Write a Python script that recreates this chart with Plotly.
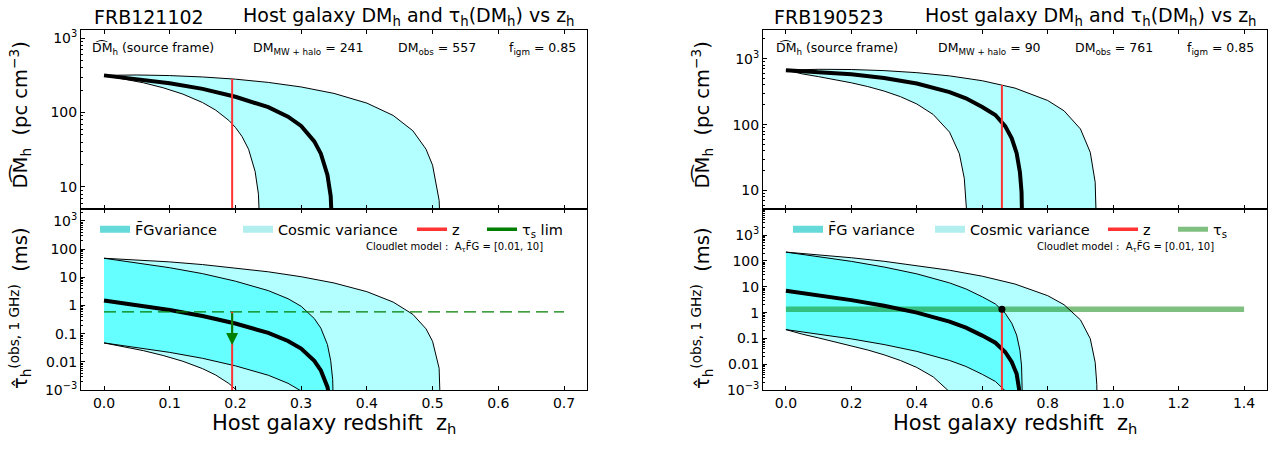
import math
import plotly.graph_objects as go

W, H = 1276, 452
FONT = "DejaVu Sans"

# ---------------- FRB121102 (left) ----------------
zL_mean = [0, 0.05, 0.1, 0.15, 0.2, 0.25, 0.28, 0.3, 0.32, 0.33, 0.34, 0.345, 0.348, 0.3505]
dmL_mean = [316, 284, 248, 208, 163, 118, 88, 66, 41, 28, 14.5, 7.5, 3.5, 0.5]
tauL_mean = [1.5, 1.047, 0.694, 0.427, 0.231, 0.107, 0.0555, 0.0298, 0.011, 0.005, 0.00131, 0.000347, 7.5e-5, 1e-6]
tauL_fg_hi = [47.4, 33.1, 21.9, 13.5, 7.30, 3.38, 1.75, 0.942, 0.347, 0.158, 0.0414, 0.011, 0.00237, 1e-5]
tauL_fg_lo = [0.0474, 0.0331, 0.0219, 0.0135, 0.0073, 0.00339, 0.00176, 0.00094, 0.000347, 0.000158, 4.1e-5, 1.1e-5, 2.4e-6, 1e-8]

zL_up = [0, 0.05, 0.1, 0.15, 0.2, 0.25, 0.3, 0.35, 0.4, 0.44, 0.47, 0.49, 0.5, 0.51, 0.515]
dmL_up = [316, 319.9, 314, 300.9, 281, 254.1, 220.8, 180.8, 133.9, 91.5, 56.9, 32.2, 19.6, 6.6, 0.5]
tauL_cv_hi = [47.4, 42.0, 35.2, 28.3, 21.7, 15.7, 10.5, 6.31, 3.10, 1.33, 0.487, 0.150, 0.054, 0.006, 1e-6]

zL_lo = [0, 0.03, 0.06, 0.09, 0.12, 0.15, 0.17, 0.19, 0.2, 0.21, 0.22, 0.23, 0.235, 0.2395]
dmL_lo = [316, 284.8, 251.2, 215.3, 177, 136.2, 107.8, 78.3, 63.1, 47.7, 32.1, 16.1, 8.0, 0.8]
tauL_cv_lo = [0.0474, 0.0352, 0.0252, 0.0170, 0.0106, 0.0058, 0.00345, 0.00173, 0.00109, 0.00061, 0.00027, 6.5e-5, 1.6e-5, 1e-7]

zL_frb = 0.195
dmL_frb_top = 283
tauL_lim = 0.6
tauL_arrow_tip = 0.04
zL_lim_span = [0, 0.7]
L_info = {"dm_mw": 241, "dm_obs": 557, "figm": 0.85}

# ---------------- FRB190523 (right) ----------------
zR_mean = [0, 0.1, 0.2, 0.3, 0.4, 0.5, 0.55, 0.6, 0.64, 0.67, 0.69, 0.705, 0.715, 0.72, 0.725]
dmR_mean = [671, 636.2, 583.1, 511.3, 421.1, 312.3, 251.1, 185.1, 140, 95, 62, 37, 19, 9.5, 0.5]
tauR_mean = [7.0, 4.73, 3.06, 1.85, 1.005, 0.449, 0.263, 0.130, 0.0691, 0.0301, 0.0124, 0.0043, 0.00111, 0.000276, 1e-6]
tauR_fg_hi = [221, 149.5, 96.7, 58.5, 31.8, 14.2, 8.31, 4.11, 2.18, 0.951, 0.392, 0.136, 0.0351, 0.00872, 3e-5]
tauR_fg_lo = [0.2215, 0.1497, 0.0968, 0.0585, 0.0318, 0.0142, 0.00832, 0.00411, 0.00219, 0.00095, 0.00039, 0.000136, 3.5e-5, 8.7e-6, 3e-8]

zR_up = [0, 0.1, 0.2, 0.3, 0.4, 0.5, 0.6, 0.7, 0.8, 0.85, 0.9, 0.93, 0.945, 0.95, 0.953]
dmR_up = [671, 691, 685.7, 659.8, 614.3, 548.9, 463.6, 358.4, 232.5, 162, 86, 38, 13.4, 5.0, 0.5]
tauR_cv_hi = [221, 176.1, 133.6, 97.3, 67.5, 43.8, 25.8, 12.83, 4.55, 2.03, 0.529, 0.0986, 0.012, 0.00166, 1e-7]

zR_lo = [0, 0.05, 0.1, 0.15, 0.2, 0.25, 0.3, 0.35, 0.4, 0.45, 0.5, 0.53, 0.545, 0.553, 0.556]
dmR_lo = [671, 588.9, 534.2, 482.8, 431.2, 378.2, 323.2, 265.7, 205.8, 142.7, 77, 36.2, 15.4, 4.2, 0.5]
tauR_cv_lo = [0.2215, 0.1474, 0.1055, 0.0754, 0.0529, 0.036, 0.0234, 0.01412, 0.00759, 0.00329, 0.000864, 0.00018, 3.2e-5, 2.3e-6, 1e-9]

zR_frb = 0.66
dmR_frb_top = 400
tauR_s = 1.35
zR_s_span = [0, 1.4]
R_info = {"dm_mw": 90, "dm_obs": 761, "figm": 0.85}

# tick labels
dm_tickvals = [10, 100, 1000]
dm_ticktext = ["10", "100", "10<sup>3</sup>"]
tau_tickvals = [1e-3, 0.01, 0.1, 1, 10, 100, 1000]
tau_ticktext = ["10<sup>−3</sup>", "0.01", "0.1", "1", "10", "100", "10<sup>3</sup>"]
minor_vals = [m * 10.0 ** e for e in range(-3, 5) for m in range(2, 10)]

# ---------------- styles ----------------
LIGHT = "#B3FFFF"
DARK = "#66FFFF"
RED = "#FF3333"
DGREEN = "#007F00"
TGREEN = "rgba(0,128,0,0.5)"

fig = go.Figure()


def band(z_hi, v_hi, z_lo, v_lo, color, xa, ya):
    fig.add_trace(go.Scatter(
        x=list(z_hi) + list(z_lo)[::-1], y=list(v_hi) + list(v_lo)[::-1],
        fill="toself", fillcolor=color, mode="lines",
        line=dict(width=0, color=color), hoverinfo="skip",
        showlegend=False, xaxis=xa, yaxis=ya))


def line(z, v, color, width, xa, ya, dash=None):
    fig.add_trace(go.Scatter(
        x=z, y=v, mode="lines", line=dict(color=color, width=width, dash=dash),
        hoverinfo="skip", showlegend=False, xaxis=xa, yaxis=ya))


def legend_item(name, color, width, leg):
    fig.add_trace(go.Scatter(
        x=[None], y=[None], mode="lines", name=name,
        line=dict(color=color, width=width), legend=leg, showlegend=True,
        xaxis="x2", yaxis="y2"))


# ---- left top ----
band(zL_up, dmL_up, zL_lo, dmL_lo, LIGHT, "x", "y")
line(zL_up, dmL_up, "black", 1, "x", "y")
line(zL_lo, dmL_lo, "black", 1, "x", "y")
line(zL_mean, dmL_mean, "black", 4, "x", "y")
line([zL_frb, zL_frb], [1, dmL_frb_top], RED, 2, "x", "y")

# ---- left bottom ----
band(zL_up, tauL_cv_hi, zL_lo, tauL_cv_lo, LIGHT, "x2", "y2")
band(zL_mean, tauL_fg_hi, zL_mean, tauL_fg_lo, DARK, "x2", "y2")
for zz, vv in [(zL_up, tauL_cv_hi), (zL_lo, tauL_cv_lo), (zL_mean, tauL_fg_hi), (zL_mean, tauL_fg_lo)]:
    line(zz, vv, "black", 1, "x2", "y2")
line(zL_mean, tauL_mean, "black", 4, "x2", "y2")
line(zL_lim_span, [tauL_lim, tauL_lim], DGREEN, 1.2, "x2", "y2", dash="12px,6px")
line([zL_frb, zL_frb], [1e-5, tauL_lim], RED, 2, "x2", "y2")

# ---- right top ----
band(zR_up, dmR_up, zR_lo, dmR_lo, LIGHT, "x3", "y3")
line(zR_up, dmR_up, "black", 1, "x3", "y3")
line(zR_lo, dmR_lo, "black", 1, "x3", "y3")
line(zR_mean, dmR_mean, "black", 4, "x3", "y3")
line([zR_frb, zR_frb], [1, dmR_frb_top], RED, 2, "x3", "y3")

# ---- right bottom ----
band(zR_up, tauR_cv_hi, zR_lo, tauR_cv_lo, LIGHT, "x4", "y4")
band(zR_mean, tauR_fg_hi, zR_mean, tauR_fg_lo, DARK, "x4", "y4")
line(zR_s_span, [tauR_s, tauR_s], TGREEN, 5.5, "x4", "y4")
for zz, vv in [(zR_up, tauR_cv_hi), (zR_lo, tauR_cv_lo), (zR_mean, tauR_fg_hi), (zR_mean, tauR_fg_lo)]:
    line(zz, vv, "black", 1, "x4", "y4")
line(zR_mean, tauR_mean, "black", 4, "x4", "y4")
line([zR_frb, zR_frb], [1e-5, tauR_s], RED, 2, "x4", "y4")
fig.add_trace(go.Scatter(x=[zR_frb], y=[tauR_s], mode="markers",
                         marker=dict(color="black", size=7), showlegend=False,
                         hoverinfo="skip", xaxis="x4", yaxis="y4"))

# ---- legends ----
legend_item("F\u0304Gvariance", "#66D9D9", 7, "legend")
legend_item("Cosmic variance", "#B3EEEE", 7, "legend2")
legend_item("z", RED, 3.5, "legend3")
legend_item("τ<sub>s</sub> lim", DGREEN, 3.5, "legend4")
legend_item("F\u0304G variance", "#66D9D9", 7, "legend5")
legend_item("Cosmic variance", "#B3EEEE", 7, "legend6")
legend_item("z", RED, 3.5, "legend7")
legend_item("τ<sub>s</sub>", TGREEN, 5, "legend8")

LEG_Y = 232.5
leg_pos = {"legend": 101, "legend2": 244, "legend3": 418, "legend4": 488,
           "legend5": 794, "legend6": 936, "legend7": 1109, "legend8": 1179}
legends = {}
for k, xpx in leg_pos.items():
    legends[k] = dict(x=(xpx - 6) / W, y=1 - LEG_Y / H, xanchor="left", yanchor="middle",
                      orientation="h", bgcolor="rgba(0,0,0,0)", borderwidth=0,
                      font=dict(size=14.5, family=FONT, color="black"))

Lx = [81 / W, 587 / W]
Rx = [763 / W, 1267 / W]
TOPy = [1 - 212 / H, 1 - 29 / H]
BOTy = [1 - 397 / H, 1 - 212 / H]


def xax(domain, rng, dtick, labels, anchor):
    return dict(domain=domain, range=rng, dtick=dtick, tick0=0, tickformat=".1f",
                showticklabels=labels, ticks="inside", ticklen=4, tickwidth=1,
                tickcolor="black", showline=True, linecolor="black", linewidth=1,
                mirror="ticks", showgrid=False, zeroline=False, anchor=anchor,
                tickfont=dict(size=14, color="black", family=FONT))


def yax(domain, rng, vals, texts, anchor):
    return dict(domain=domain, type="log", range=rng, tickmode="array",
                tickvals=vals, ticktext=texts, ticks="inside", ticklen=4,
                tickwidth=1, tickcolor="black", showline=True, linecolor="black",
                linewidth=1, mirror=True, showgrid=False, zeroline=False,
                anchor=anchor,
                minor=dict(tickmode="array", tickvals=minor_vals, ticks="inside",
                           ticklen=2, tickcolor="black", showgrid=False),
                tickfont=dict(size=14, color="black", family=FONT))


annotations = []


def txt(text, xpx, ypx, size, xanchor="left", angle=0):
    annotations.append(dict(text=text, x=xpx / W, y=1 - ypx / H, xref="paper",
                            yref="paper", xanchor=xanchor, yanchor="middle",
                            showarrow=False, textangle=angle,
                            font=dict(size=size, family=FONT, color="black")))


HAT_DM = "D\u0361M"
for (x0, x1, name) in [(92, 577, "FRB121102"), (772, 1259, "FRB190523")]:
    txt(name, x0, 15, 19)
    txt("Host galaxy DM<sub>h</sub> and τ<sub>h</sub>(DM<sub>h</sub>) vs z<sub>h</sub>", x1, 15, 19, "right")

txt(HAT_DM + "<sub>h</sub> (source frame)", 90, 48, 12.5)
txt("DM<sub>MW + halo</sub> = %d" % L_info["dm_mw"], 308, 48, 12.5, "center")
txt("DM<sub>obs</sub> = %d" % L_info["dm_obs"], 437, 48, 12.5, "center")
txt("f<sub>igm</sub> = %.2f" % L_info["figm"], 578, 48, 12.5, "right")
txt(HAT_DM + "<sub>h</sub> (source frame)", 774, 48, 12.5)
txt("DM<sub>MW + halo</sub> = %d" % R_info["dm_mw"], 989, 48, 12.5, "center")
txt("DM<sub>obs</sub> = %d" % R_info["dm_obs"], 1114, 48, 12.5, "center")
txt("f<sub>igm</sub> = %.2f" % R_info["figm"], 1256, 48, 12.5, "right")

txt("Cloudlet model :  A<sub>τ</sub>F\u0303G = [0.01, 10]", 545, 250.5, 10, "right")
txt("Cloudlet model :  A<sub>τ</sub>F\u0303G = [0.01, 10]", 1216, 250.5, 10, "right")

for cx in (334, 1015):
    txt("Host galaxy redshift  z<sub>h</sub>", cx, 432, 21, "center")

for lx in (20, 702):
    txt(HAT_DM + "<sub>h</sub>  (pc cm<sup>−3</sup>)", lx, 116, 19.5, "center", -90)
    txt("τ\u0302<sub>h</sub><sup>(obs, 1 GHz)</sup>  (ms)", lx, 313, 19.5, "center", -90)

# arrow for tau_s limit
annotations.append(dict(x=zL_frb, y=math.log10(tauL_arrow_tip), ax=zL_frb,
                        ay=math.log10(tauL_lim), xref="x2", yref="y2", axref="x2",
                        ayref="y2", showarrow=True, arrowhead=2, arrowsize=1.2,
                        arrowwidth=2, arrowcolor=DGREEN, text=""))

layout = dict(
    width=W, height=H, margin=dict(l=0, r=0, t=0, b=0),
    paper_bgcolor="white", plot_bgcolor="white",
    font=dict(family=FONT, color="black"),
    xaxis=xax(Lx, [-0.035, 0.735], 0.1, False, "y"),
    xaxis2=xax(Lx, [-0.035, 0.735], 0.1, True, "y2"),
    xaxis3=xax(Rx, [-0.07, 1.47], 0.2, False, "y3"),
    xaxis4=xax(Rx, [-0.07, 1.47], 0.2, True, "y4"),
    yaxis=yax(TOPy, [math.log10(5), 3.105], dm_tickvals, dm_ticktext, "x"),
    yaxis2=yax(BOTy, [-3, 3.41], tau_tickvals, tau_ticktext, "x2"),
    yaxis3=yax(TOPy, [0.716, 3.43], dm_tickvals, dm_ticktext, "x3"),
    yaxis4=yax(BOTy, [-3, 4.0], tau_tickvals, tau_ticktext, "x4"),
    annotations=annotations,
    showlegend=True,
)
layout.update(legends)
fig.update_layout(**layout)

fig.write_html("out.html")
